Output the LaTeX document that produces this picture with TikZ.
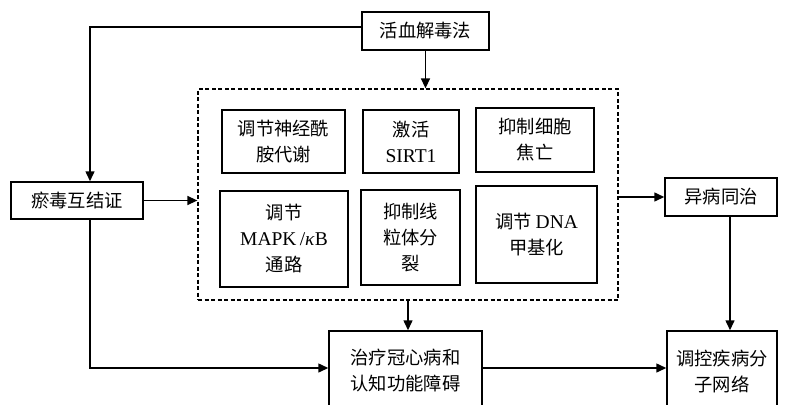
\documentclass[tikz,border=0pt]{standalone}
\usepackage{fontspec}
\setmainfont{Liberation Serif}
\newfontfamily\cjk{Noto Sans CJK SC}
\newcommand{\latn}[1]{{\rmfamily\fontsize{19.5}{26}\selectfont #1}}
\usetikzlibrary{arrows.meta}
\begin{document}
\begin{tikzpicture}[x=1pt,y=-1pt,
  box/.style={draw,line width=1.5pt,align=center,inner sep=0pt,
    font=\fontsize{18.3}{26}\selectfont\cjk},
  dbox/.style={draw,line width=1.3pt,dash pattern=on 4pt off 2.5pt,inner sep=0pt},
  arr/.style={line width=1.5pt,-{Triangle[length=10pt,width=9pt]}},
  ln/.style={line width=1.5pt}]
\useasboundingbox (0,0) rectangle (791,404);
\begin{scope}
\clip (0,0) rectangle (791,404);
\node[box,minimum width=127pt,minimum height=38pt] (top) at (425.5,31) {活血解毒法};
\node[box,minimum width=132pt,minimum height=37pt] (yu) at (77,200.5) {瘀毒互结证};
\node[dbox,minimum width=420pt,minimum height=211pt] (dash) at (408,194.5) {};
\node[box,minimum width=123pt,minimum height=63pt] (b1) at (283.5,141.5) {调节神经酰\\胺代谢};
\node[box,minimum width=96pt,minimum height=63pt] (b2) at (411,141.5) {激活\\\latn{SIRT1}};
\node[box,minimum width=118pt,minimum height=64pt] (b3) at (535,140) {抑制细胞\\焦亡};
\node[box,minimum width=128pt,minimum height=96pt] (b4) at (284,239) {调节\\\latn{MAPK\,/\textit{κ}B}\\通路};
\node[box,minimum width=99pt,minimum height=95pt] (b5) at (410.5,237.5) {抑制线\\粒体分\\裂};
\node[box,minimum width=121pt,minimum height=97pt] (b6) at (536.5,234.5) {调节 \latn{DNA}\\甲基化};
\node[box,minimum width=112pt,minimum height=38pt] (yb) at (721,197) {异病同治};
\node[box,minimum width=153pt,minimum height=80pt] (zl) at (405.5,371) {治疗冠心病和\\认知功能障碍};
\node[box,minimum width=110pt,minimum height=80pt] (tk) at (722,371) {调控疾病分\\子网络};
\end{scope}
\draw[arr] ([yshift=4pt]top.west) -| ([xshift=13pt]yu.north);
\draw[arr] (top.south) -- (top.south |- dash.north);
\draw[arr] (yu.east) -- (yu.east -| dash.west);
\draw[arr] (dash.east |- yb.west) -- (yb.west);
\draw[arr] (dash.south) -- (dash.south |- zl.north);
\draw[arr] ([xshift=13pt]yu.south) |- ([yshift=3pt]zl.west);
\draw[arr] ([yshift=3pt]zl.east) -- ([yshift=3pt]tk.west);
\draw[arr] ([xshift=9pt]yb.south) -- ([xshift=9pt]yb.south |- tk.north);
\end{tikzpicture}
\end{document}
